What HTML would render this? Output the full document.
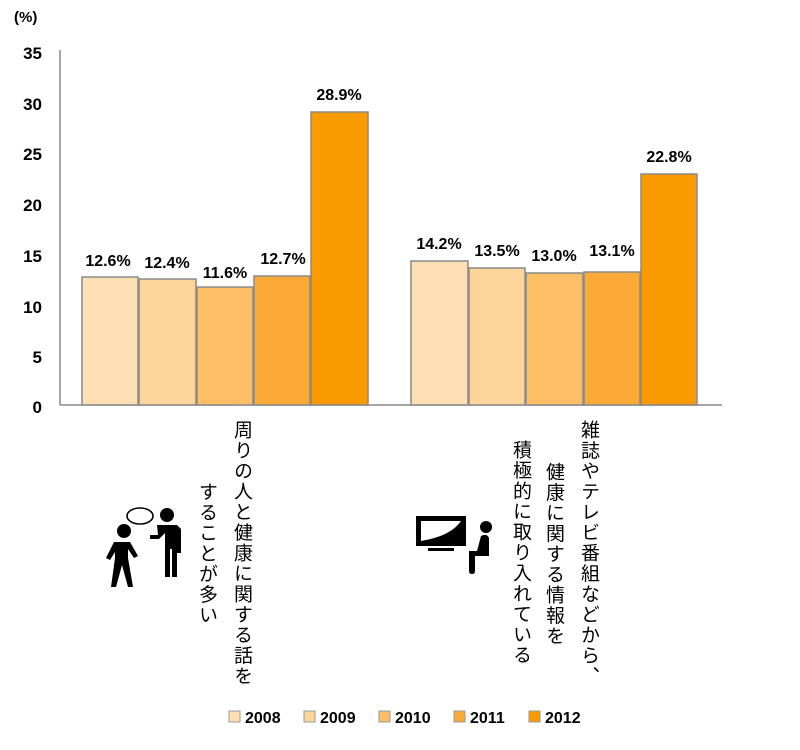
<!DOCTYPE html>
<html><head><meta charset="utf-8"><style>
body{margin:0;background:#fff;}
.v{position:absolute;writing-mode:vertical-rl;font-family:"Noto Sans CJK JP","Liberation Sans",sans-serif;font-size:19px;line-height:21px;color:#000;letter-spacing:1.5px;}
</style></head><body>
<div style="position:relative;width:800px;height:750px;overflow:hidden;">
<svg width="800" height="750" style="position:absolute;left:0;top:0" font-family="Liberation Sans, sans-serif" font-weight="bold">
<text x="14" y="22" font-size="15">(%)</text>
<g font-size="17" text-anchor="end">
<text x="42" y="59">35</text><text x="42" y="110">30</text><text x="42" y="160">25</text><text x="42" y="211">20</text><text x="42" y="262">15</text><text x="42" y="313">10</text><text x="42" y="363">5</text><text x="42" y="413">0</text>
</g>
<line x1="60" y1="50" x2="60" y2="405" stroke="#888" stroke-width="1.5"/>
<line x1="60" y1="405" x2="722" y2="405" stroke="#888" stroke-width="1.5"/>
<g stroke="#8a8a8a" stroke-width="1.5">
<rect x="82" y="277" width="56" height="128" fill="#FDDFB3"/>
<rect x="139" y="279" width="57" height="126" fill="#FDD59A"/>
<rect x="197" y="287" width="56" height="118" fill="#FDBE66"/>
<rect x="254" y="276" width="56" height="129" fill="#FBA937"/>
<rect x="311" y="112" width="57" height="293" fill="#F99B00"/>
<rect x="411" y="261" width="57" height="144" fill="#FDDFB3"/>
<rect x="469" y="268" width="56" height="137" fill="#FDD59A"/>
<rect x="526" y="273" width="57" height="132" fill="#FDBE66"/>
<rect x="584" y="272" width="56" height="133" fill="#FBA937"/>
<rect x="641" y="174" width="56" height="231" fill="#F99B00"/>
</g>
<g font-size="16" text-anchor="middle">
<text x="108" y="266">12.6%</text><text x="167" y="268">12.4%</text><text x="225" y="278">11.6%</text><text x="283" y="264">12.7%</text><text x="339" y="100">28.9%</text>
<text x="439" y="249">14.2%</text><text x="497" y="256">13.5%</text><text x="554" y="261">13.0%</text><text x="612" y="256">13.1%</text><text x="669" y="162">22.8%</text>
</g>
<g font-size="16">
<rect x="229" y="711" width="11" height="11" fill="#FDDFB3" stroke="#999"/><text x="245" y="723">2008</text>
<rect x="304" y="711" width="11" height="11" fill="#FDD59A" stroke="#999"/><text x="320" y="723">2009</text>
<rect x="379" y="711" width="11" height="11" fill="#FDBE66" stroke="#999"/><text x="395" y="723">2010</text>
<rect x="454" y="711" width="11" height="11" fill="#FBA937" stroke="#999"/><text x="470" y="723">2011</text>
<rect x="529" y="711" width="11" height="11" fill="#F99B00" stroke="#999"/><text x="545" y="723">2012</text>
</g>
<g fill="#000">
<circle cx="124" cy="531" r="7"/>
<path d="M114 542 h16 l8 14 -4 2 -6 -9 v9 l5 29 h-5 l-6 -22 -6 22 h-5 l4 -29 v-6 l-5 8 -4 -2z"/>
<circle cx="167" cy="515" r="7"/>
<path d="M157 525 h20 l4 4 v24 h-4 v-20 v44 h-5 v-28 h-2 v28 h-5 v-44 l-6 6 h-9 v-4 h8z"/>
</g>
<ellipse cx="140" cy="516" rx="13" ry="8" fill="#fff" stroke="#000" stroke-width="1.6"/>
<rect x="416" y="516" width="50" height="30" fill="#000"/>
<path d="M421 521 h40 q-10 15 -40 20z" fill="#fff"/>
<rect x="428" y="548" width="26" height="3" fill="#000"/>
<g fill="#000"><circle cx="486" cy="527" r="6"/>
<path d="M481 536 q6 -3 8 2 v18 h-14 v15 q0 3 -3 3 q-3 0 -3 -3 v-20 h8z"/></g>
</svg>
<div class="v" style="left:233px;top:420px;">周りの人と健康に関する話を</div>
<div class="v" style="left:198px;top:482px;">することが多い</div>
<div class="v" style="left:580px;top:420px;">雑誌やテレビ番組などから、</div>
<div class="v" style="left:545px;top:462px;">健康に関する情報を</div>
<div class="v" style="left:512px;top:440px;">積極的に取り入れている</div>
</div>
</body></html>
